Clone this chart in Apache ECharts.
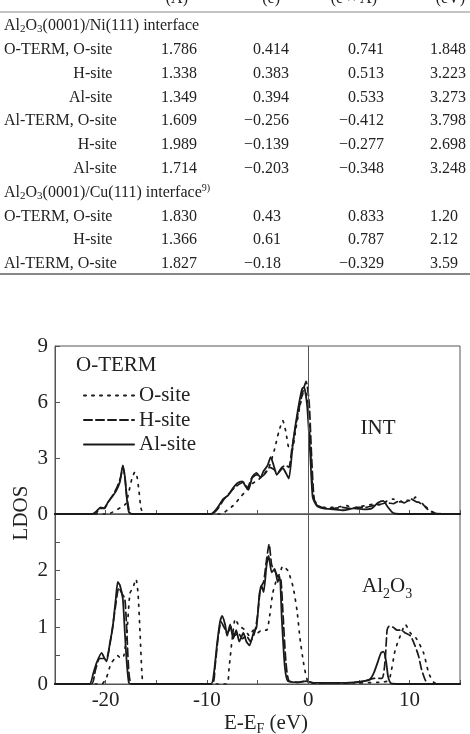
<!DOCTYPE html>
<html>
<head>
<meta charset="utf-8">
<script src="https://cdn.jsdelivr.net/npm/echarts@6/dist/echarts.min.js"></script>
<style>
html, body { margin: 0; padding: 0; background: #fff; }
#chart { width: 470px; height: 734px; }
</style>
</head>
<body>
<div id="chart"></div>
<script>
// ---- table data ----
var tableHead = ['(Å)', '(e)', '(e × Å)', '(eV)'];
var niLabels = ['O-TERM, O-site', 'H-site', 'Al-site', 'Al-TERM, O-site', 'H-site', 'Al-site'];
var niDist = ['1.786', '1.338', '1.349', '1.609', '1.989', '1.714'];
var niCharge = ['0.414', '0.383', '0.394', '−0.256', '−0.139', '−0.203'];
var niProduct = ['0.741', '0.513', '0.533', '−0.412', '−0.277', '−0.348'];
var niEnergy = ['1.848', '3.223', '3.273', '3.798', '2.698', '3.248'];
var cuLabels = ['O-TERM, O-site', 'H-site', 'Al-TERM, O-site'];
var cuDist = ['1.830', '1.366', '1.827'];
var cuCharge = ['0.43', '0.61', '−0.18'];
var cuProduct = ['0.833', '0.787', '−0.329'];
var cuEnergy = ['1.20', '2.12', '3.59'];

// ---- LDOS curves, [E - EF (eV), LDOS] ----
// interface (INT) panel
var intOsite = [[-25,0],[-20.0,0],[-19.5,0.05],[-19.0,0.2],[-18.5,0.35],[-18.0,0.55],[-17.7,1.2],[-17.4,1.9],[-17.1,2.25],[-16.9,2.0],[-16.7,1.2],[-16.5,0.3],[-16.2,0],
  [-8.6,0],[-8.0,0.2],[-7.3,0.5],[-6.7,0.9],[-6.2,1.2],[-5.6,1.6],[-5.0,1.8],[-4.4,2.1],[-3.8,2.6],[-3.3,3.5],[-2.9,4.4],[-2.5,5.0],[-2.2,4.4],[-1.9,3.5],[-1.6,3.4],[-1.2,4.6],[-0.8,5.8],[-0.4,6.6],[-0.1,6.3],[0.2,3.8],[0.5,1.0],[0.9,0.45],
  [1.6,0.35],[2.4,0.35],[3.2,0.4],[3.8,0.45],[4.4,0.3],[5.0,0.4],[5.8,0.45],[6.6,0.55],[7.2,0.5],[7.8,0.7],[8.4,0.8],[9.0,0.65],[9.6,0.75],[10.2,0.7],[10.6,0.9],[11.0,0.6],[11.4,0.5],[12.0,0.2],[12.6,0.05],[13.5,0],[15,0]];
var intHsite = [[-25,0],[-21.0,0],[-20.6,0.3],[-20.2,0.3],[-19.8,0.6],[-19.3,1.0],[-18.9,1.4],[-18.5,2.0],[-18.3,2.5],[-18.1,2.0],[-17.9,0.9],[-17.6,0.05],[-17.3,0],
  [-9.5,0],[-8.9,0.3],[-8.3,0.8],[-7.8,1.1],[-7.3,1.4],[-6.8,1.6],[-6.4,1.7],[-6.0,1.4],[-5.6,1.9],[-5.1,2.1],[-4.6,2.0],[-4.2,2.2],[-3.8,2.5],[-3.4,2.4],[-3.0,2.2],[-2.6,2.5],[-2.2,2.6],[-1.9,2.5],[-1.6,3.5],[-1.0,5.4],[-0.5,6.6],[-0.2,7.1],[0.1,6.0],[0.35,3.0],[0.6,0.8],[1.0,0.45],
  [1.8,0.3],[2.6,0.3],[3.4,0.35],[4.0,0.3],[4.8,0.35],[5.6,0.35],[6.4,0.45],[7.0,0.5],[7.8,0.6],[8.4,0.55],[9.0,0.7],[9.5,0.6],[10.2,0.8],[10.7,0.65],[11.2,0.6],[11.7,0.3],[12.3,0.08],[13,0],[15,0]];
var intAlsite = [[-25,0],[-21.3,0],[-20.9,0.15],[-20.5,0.35],[-20.1,0.3],[-19.8,0.6],[-19.4,0.9],[-19.0,1.2],[-18.6,1.7],[-18.3,2.6],[-18.1,2.0],[-17.9,0.8],[-17.7,0.1],[-17.4,0],
  [-9.6,0],[-9.0,0.3],[-8.4,0.8],[-7.9,1.0],[-7.4,1.4],[-7.0,1.65],[-6.5,1.75],[-6.2,1.5],[-5.9,1.3],[-5.5,2.0],[-5.1,2.2],[-4.7,1.95],[-4.4,2.3],[-4.0,2.6],[-3.7,3.05],[-3.4,2.6],[-3.1,2.1],[-2.8,2.3],[-2.5,2.45],[-2.2,2.2],[-1.9,1.9],[-1.5,3.8],[-1.0,5.6],[-0.6,6.7],[-0.4,6.8],[-0.1,5.8],[0.2,3.3],[0.45,0.9],[0.85,0.45],
  [1.5,0.3],[2.5,0.25],[3.5,0.2],[4.5,0.3],[5.5,0.25],[6.3,0.3],[6.9,0.6],[7.4,0.7],[7.9,0.35],[8.4,0.05],[9,0],[15,0]];
// bulk Al2O3 panel
var bulkOsite = [[-25,0],[-20.4,0],[-19.9,0.12],[-19.5,0.35],[-19.1,0.45],[-18.8,0.5],[-18.5,0.45],[-18.2,0.5],[-17.9,0.9],[-17.6,1.6],[-17.3,1.7],[-17.0,1.85],[-16.8,1.6],[-16.6,0.9],[-16.4,0.15],[-16.2,0],
  [-8.1,0],[-7.8,0.3],[-7.5,0.8],[-7.2,1.15],[-6.9,1.05],[-6.6,1.0],[-6.2,0.95],[-5.8,0.85],[-5.4,0.95],[-5.0,0.9],[-4.6,0.95],[-4.1,0.95],[-3.8,1.2],[-3.5,1.6],[-3.1,1.85],[-2.8,1.95],[-2.5,2.08],[-2.0,2.0],[-1.5,1.72],[-1.1,1.3],[-0.8,0.8],[-0.45,0.37],[-0.1,0.08],[0.3,0.02],
  [5.0,0.02],[7.0,0.03],[7.8,0.05],[8.1,0.13],[8.6,0.6],[9.1,0.85],[9.6,1.05],[10.1,0.9],[10.7,0.8],[11.4,0.55],[11.9,0.2],[12.4,0.03],[13.0,0],[15,0]];
var bulkHsite = [[-25,0],[-21.4,0],[-21.0,0.25],[-20.6,0.45],[-20.2,0.45],[-19.8,0.5],[-19.4,0.9],[-19.0,1.4],[-18.7,1.7],[-18.4,1.6],[-18.1,1.5],[-17.9,0.9],[-17.7,0.2],[-17.4,0],
  [-9.5,0],[-9.2,0.3],[-8.9,0.8],[-8.6,1.1],[-8.3,1.0],[-8.0,0.9],[-7.6,1.0],[-7.3,0.85],[-6.9,0.9],[-6.5,0.8],[-6.1,0.85],[-5.7,0.75],[-5.3,0.9],[-5.0,1.2],[-4.7,1.7],[-4.4,1.8],[-4.1,2.2],[-3.85,2.47],[-3.6,2.1],[-3.3,2.0],[-3.0,1.9],[-2.7,1.85],[-2.5,1.3],[-2.2,0.4],[-1.9,0.06],[-1.0,0.03],[-0.2,0.05],[0.5,0.02],
  [4.0,0.02],[5.5,0.05],[6.5,0.1],[7.3,0.1],[7.6,0.4],[7.8,0.95],[8.0,1.02],[8.4,1.0],[8.8,0.95],[9.2,0.95],[9.6,0.9],[10.1,0.85],[10.5,0.7],[10.9,0.5],[11.2,0.26],[11.6,0.06],[12.0,0],[15,0]];
var bulkAlsite = [[-25,0],[-21.6,0],[-21.2,0.2],[-20.9,0.37],[-20.4,0.55],[-20.1,0.45],[-19.9,0.4],[-19.6,0.7],[-19.3,1.0],[-19.0,1.5],[-18.8,1.8],[-18.6,1.75],[-18.3,1.5],[-18.1,0.9],[-17.9,0.35],[-17.7,0.02],[-17.4,0],
  [-9.6,0],[-9.3,0.2],[-9.0,0.7],[-8.7,1.1],[-8.5,1.2],[-8.2,1.05],[-8.0,0.85],[-7.7,1.05],[-7.4,0.8],[-7.1,0.95],[-6.8,0.75],[-6.4,0.9],[-6.1,0.75],[-5.8,0.68],[-5.4,0.9],[-5.1,1.0],[-4.8,1.6],[-4.6,1.73],[-4.4,1.62],[-4.1,2.1],[-3.9,2.26],[-3.6,1.97],[-3.3,2.03],[-3.0,1.8],[-2.8,1.9],[-2.6,1.15],[-2.3,0.3],[-2.0,0.05],[-1.0,0.03],[-0.2,0.05],[0.5,0.02],
  [3.0,0.02],[4.5,0.03],[5.5,0.05],[6.1,0.08],[6.5,0.2],[6.9,0.4],[7.2,0.55],[7.45,0.57],[7.7,0.4],[7.9,0.13],[8.2,0.01],[9,0],[15,0]];

var siteNames = ['O-site', 'H-site', 'Al-site'];

// ---- styling ----
var SERIF = '"Liberation Serif", "Times New Roman", serif';
var INK = '#222';
var FRAME = '#555';
var dashTypes = [[2, 6], [8, 4], 'solid'];

var chart = echarts.init(document.getElementById('chart'));

// measure text so the row labels line up like the original
var ctx = document.createElement('canvas').getContext('2d');
ctx.font = '16px ' + SERIF;

var graphics = [];
function addText(x, y, text, align, extra) {
	var st = { text: text, x: 0, y: 0, fill: INK, font: '16px ' + SERIF,
		align: align, textAlign: align, verticalAlign: 'middle', textVerticalAlign: 'middle' };
	for (var k in extra) st[k] = extra[k];
	graphics.push({ type: 'text', x: x, y: y, style: st, silent: true });
}

// table layout
var rowTop = 26, rowStep = 23.8;
var colRight = [197, 289, 384, 466];
var headRight = [188, 280, 377, 465];
var digitW = 8;

tableHead.forEach(function (h, i) { addText(headRight[i], -1, h, 'right'); });
graphics.push({ type: 'line', shape: { x1: 0, y1: 12, x2: 470, y2: 12 }, style: { stroke: '#888', lineWidth: 1 }, silent: true });

var subRich = {
	n: { fontSize: 16, fontFamily: SERIF, lineHeight: 18, fill: INK, color: INK },
	s: { fontSize: 11, fontFamily: SERIF, lineHeight: 9, verticalAlign: 'bottom', fill: INK, color: INK },
	p: { fontSize: 10, fontFamily: SERIF, lineHeight: 9, verticalAlign: 'top', fill: INK, color: INK }
};

function addSection(row, metal, sup) {
	var t = '{n|Al}{s|2}{n|O}{s|3}{n|(0001)/' + metal + '(111) interface}' + (sup ? '{p|' + sup + '}' : '');
	addText(4, rowTop + row * rowStep, t, 'left', { rich: subRich });
}

function addRows(startRow, labels, cols) {
	var groupEnd = 0;
	labels.forEach(function (lab, i) {
		var y = rowTop + (startRow + i) * rowStep;
		if (lab.indexOf(',') >= 0) {
			groupEnd = 4 + ctx.measureText(lab).width;
			addText(4, y, lab, 'left');
		} else {
			addText(groupEnd, y, lab, 'right');
		}
		cols.forEach(function (col, c) {
			var v = col[i];
			var dec = v.split('.')[1].length;
			addText(colRight[c] - (3 - dec) * digitW, y, v, 'right');
		});
	});
}

addSection(0, 'Ni', null);
addRows(1, niLabels, [niDist, niCharge, niProduct, niEnergy]);
addSection(7, 'Cu', '9)');
addRows(8, cuLabels, [cuDist, cuCharge, cuProduct, cuEnergy]);
graphics.push({ type: 'line', shape: { x1: 0, y1: 274, x2: 470, y2: 274 }, style: { stroke: '#888', lineWidth: 2 }, silent: true });

// chart annotations
addText(76, 365, 'O-TERM', 'left', { font: '21px ' + SERIF });
addText(378, 428, 'INT', 'center', { font: '21px ' + SERIF });
addText(362, 586.5, '{n|Al}{s|2}{n|O}{s|3}', 'left', { rich: {
	n: { fontSize: 21, fontFamily: SERIF, lineHeight: 30, fill: INK, color: INK },
	s: { fontSize: 14, fontFamily: SERIF, lineHeight: 7, verticalAlign: 'bottom', fill: INK, color: INK }
} });
addText(266, 723, '{n|E-E}{s|F}{n| (eV)}', 'center', { rich: {
	n: { fontSize: 21, fontFamily: SERIF, lineHeight: 26, fill: INK, color: INK },
	s: { fontSize: 14, fontFamily: SERIF, lineHeight: 8, verticalAlign: 'bottom', fill: INK, color: INK }
} });
graphics.push({ type: 'text', x: 21, y: 513, rotation: Math.PI / 2, silent: true,
	style: { text: 'LDOS', fill: INK, font: '21px ' + SERIF, align: 'center', textAlign: 'center', verticalAlign: 'middle', textVerticalAlign: 'middle' } });

function xAxisFor(gi, showLabel) {
	return {
		gridIndex: gi, type: 'value', min: -25, max: 15, interval: 5,
		axisLine: { show: true, onZero: false, lineStyle: { color: FRAME, width: 1 } },
		axisTick: { show: true, inside: true, length: 4, lineStyle: { color: FRAME } },
		splitLine: { show: false },
		axisLabel: {
			show: showLabel, margin: 6, color: INK, fontFamily: SERIF, fontSize: 21,
			formatter: function (v) { return v % 10 === 0 ? String(v) : ''; }
		}
	};
}

function yAxisFor(gi, max, interval, labelFn) {
	return {
		gridIndex: gi, type: 'value', min: 0, max: max, interval: interval,
		axisLine: { show: true, onZero: false, lineStyle: { color: FRAME, width: 1 } },
		axisTick: { show: true, inside: true, length: 5, lineStyle: { color: FRAME } },
		splitLine: { show: false },
		axisLabel: { margin: 7, color: INK, fontFamily: SERIF, fontSize: 21, formatter: labelFn }
	};
}

var zeroLine = {
	silent: true, symbol: 'none', label: { show: false },
	lineStyle: { color: FRAME, type: 'solid', width: 1 },
	data: [{ xAxis: 0 }]
};

function curve(name, data, gi, k) {
	var s = {
		name: name, type: 'line', xAxisIndex: gi, yAxisIndex: gi, data: data,
		symbol: 'none', showSymbol: false, smooth: 0.2, animation: false,
		lineStyle: { color: '#1a1a1a', width: k === 2 ? 1.8 : 1.7, type: dashTypes[k], cap: 'round' },
		itemStyle: { color: '#1a1a1a' }
	};
	if (k === 2) s.markLine = zeroLine;
	return s;
}

var option = {
	backgroundColor: '#fff',
	animation: false,
	grid: [
		{ left: 55, top: 346, width: 405, height: 168, show: true, borderColor: FRAME, borderWidth: 1, backgroundColor: 'transparent' },
		{ left: 55, top: 514, width: 405, height: 170, show: true, borderColor: FRAME, borderWidth: 1, backgroundColor: 'transparent' }
	],
	xAxis: [xAxisFor(0, false), xAxisFor(1, true)],
	yAxis: [
		yAxisFor(0, 9, 3, function (v) { return String(v); }),
		yAxisFor(1, 3, 0.5, function (v) { return (v % 1 === 0 && v < 3) ? String(v) : ''; })
	],
	legend: {
		data: siteNames, orient: 'vertical', left: 78, top: 380,
		itemWidth: 50, itemHeight: 14, itemGap: 3.5,
		itemStyle: { color: 'rgba(0,0,0,0)', borderColor: 'rgba(0,0,0,0)', borderWidth: 0, opacity: 0 },
		textStyle: { color: INK, fontFamily: SERIF, fontSize: 21 },
		selectedMode: false
	},
	series: [
		curve(siteNames[0], intOsite, 0, 0),
		curve(siteNames[1], intHsite, 0, 1),
		curve(siteNames[2], intAlsite, 0, 2),
		curve(siteNames[0], bulkOsite, 1, 0),
		curve(siteNames[1], bulkHsite, 1, 1),
		curve(siteNames[2], bulkAlsite, 1, 2)
	],
	graphic: { elements: graphics }
};

chart.setOption(option);
</script>
</body>
</html>
